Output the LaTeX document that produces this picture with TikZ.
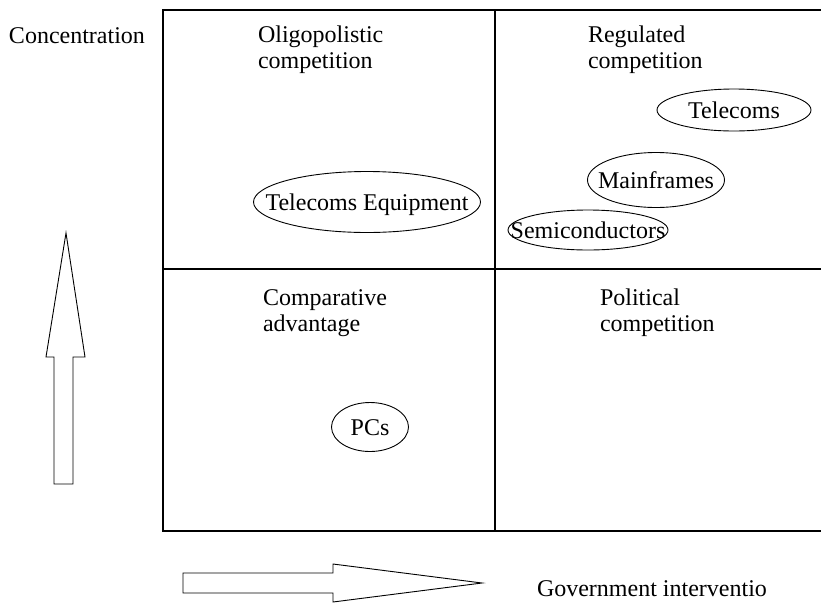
\documentclass[tikz,border=0pt]{standalone}
\usepackage{fontspec}
\setmainfont{Liberation Serif}
\usetikzlibrary{shapes.geometric}
\newcommand{\ctext}[1]{\makebox[0pt][c]{\smash{\raisebox{-0.36em}{#1}}}}
\begin{document}
\begin{tikzpicture}[x=1pt,y=-1pt,
  lbl/.style={anchor=base west, inner sep=0pt, outer sep=0pt, align=left,
              font=\fontsize{24}{25.5}\selectfont},
  oval/.style={ellipse, draw, line width=0.9pt, inner sep=0pt,
               font=\fontsize{24}{25.5}\selectfont},
  gridline/.style={line width=1.1pt},
  bigarrow/.style={draw, line width=0.9pt, line join=miter}]
\useasboundingbox (0,0) rectangle (821,603);

% grid
\coordinate (tl) at (163,10);
\coordinate (tr) at (821,10);
\coordinate (ml) at (163,269);
\coordinate (mr) at (821,269);
\coordinate (bl) at (163,531);
\coordinate (br) at (821,531);
\coordinate (mt) at (495,10);
\coordinate (mb) at (495,531);
\draw[gridline] (tr) -- (tl) -- (bl) -- (br);
\draw[gridline] (ml) -- (mr);
\draw[gridline] (mt) -- (mb);

% labels (base anchor = baseline of last line)
\node[lbl] (conc) at (9,43) {Concentration};
\node[lbl] (oligo) at (258,68) {Oligopolistic\\competition};
\node[lbl] (regul) at (588,68) {Regulated\\competition};
\node[lbl] (compa) at (263,331) {Comparative\\advantage};
\node[lbl] (polit) at (600,331) {Political\\competition};
\node[lbl] (gov) at (537,596) {Government interventio};

% ovals
\node[oval, minimum width=227pt, minimum height=61pt] (teleq) at (367,202) {\ctext{Telecoms Equipment}};
\node[oval, minimum width=154pt, minimum height=42pt] (tel) at (734,110) {\ctext{Telecoms}};
\node[oval, minimum width=137pt, minimum height=55pt] (main) at (656,180) {\ctext{Mainframes}};
\node[oval, minimum width=160pt, minimum height=40pt] (semi) at (588,230) {\ctext{Semiconductors}};
\node[oval, minimum width=77pt, minimum height=49pt] (pcs) at (370,427) {\ctext{PCs}};

% block arrows
\draw[bigarrow] (54,484) -- (54,357) -- (46,357) -- (66,233) -- (85,357) -- (73,357) -- (73,484) -- cycle;
\draw[bigarrow] (183,573) -- (333,573) -- (333,564) -- (482,583) -- (333,602) -- (333,593) -- (183,593) -- cycle;
\end{tikzpicture}
\end{document}
